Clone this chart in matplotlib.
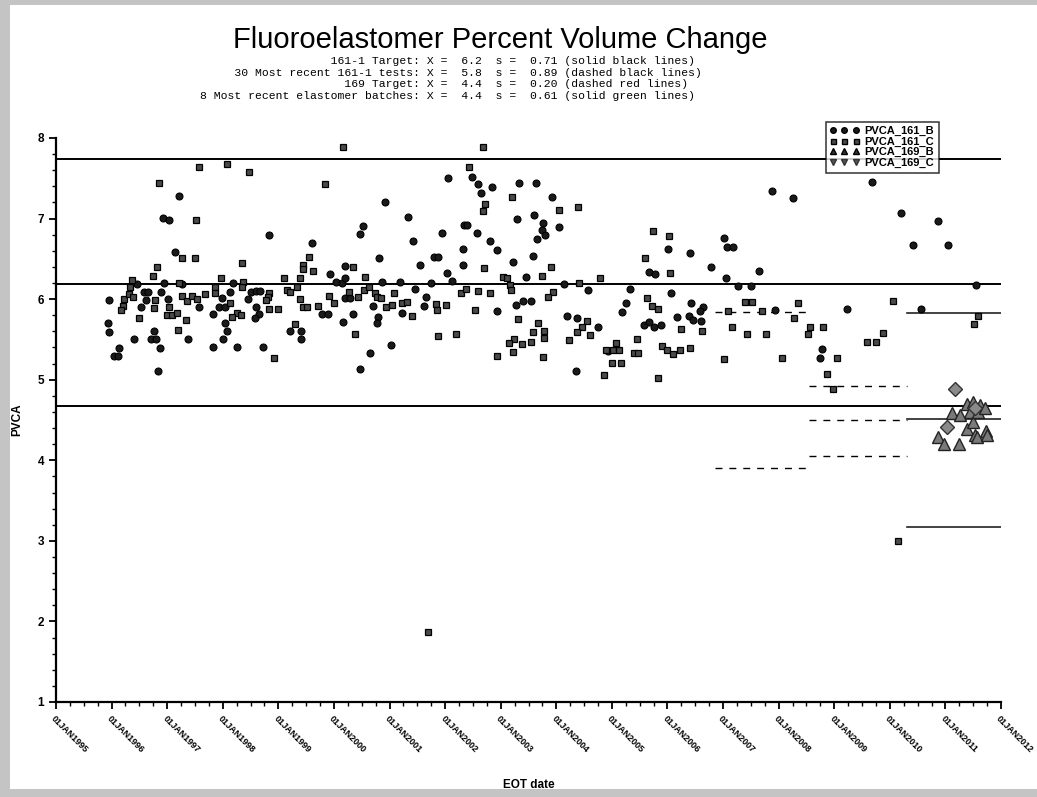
import matplotlib
matplotlib.use("Agg")
import matplotlib.pyplot as plt
from matplotlib.lines import Line2D
from matplotlib.patches import Rectangle
from matplotlib.ticker import MultipleLocator, FixedLocator

# ---------------- data ----------------
title = "Fluoroelastomer Percent Volume Change"
stat_labels = ["161-1 Target:", "30 Most recent 161-1 tests:", "169 Target:",
               "8 Most recent elastomer batches:"]
stat_means = ["6.2", "5.8", "4.4", "4.4"]
stat_sds = ["0.71", "0.89", "0.20", "0.61"]
stat_notes = ["(solid black lines)", "(dashed black lines)", "(dashed red lines)",
              "(solid green lines)"]

years = list(range(1995, 2013))
tick_labels = [f"01JAN{y}" for y in years]

# PVCA_161_B (circles)
b161_year = [1997.21, 1996.92, 1997.03, 1997.14, 1996.46, 1996.94, 1997.27, 1995.95, 1996.58, 1996.65,
             1996.62, 1996.89, 1996.53, 1997.01, 1997.57, 1995.94, 1995.95, 1996.76, 1996.40, 1996.71,
             1996.80, 1997.37, 1996.13, 1996.87, 1996.04, 1996.12, 1996.83,
             1998.83, 2000.52, 2000.47, 1999.60, 2000.20, 1999.93, 1998.18, 2000.04, 2000.14, 2000.20,
             1998.13, 1998.51, 1998.60, 1998.67, 1997.99, 1998.45, 2000.20, 2000.29, 1997.93, 1998.04,
             1998.60, 1999.78, 1999.89, 2000.34, 1998.65, 1998.58, 1998.04, 1998.08, 1998.00, 1997.82,
             2000.16, 1999.21, 1999.41, 1999.41, 1997.82, 1998.26, 1998.72, 2000.47,
             2002.05, 2002.48, 2002.59, 2002.64, 2002.84, 2003.33, 2000.92, 2001.33, 2003.29, 2002.34,
             2002.39, 2001.94, 2002.57, 2001.42, 2002.81, 2002.93, 2002.32, 2000.81, 2001.80, 2001.87,
             2003.22, 2001.55, 2002.32, 2002.03, 2000.86, 2001.19, 2001.74, 2002.12, 2003.45, 2001.46,
             2001.65, 2000.70, 2001.22, 2001.62, 2003.27, 2003.40, 2002.93, 2000.79, 2000.77, 2001.03,
             2000.65,
             2003.63, 2003.92, 2003.60, 2003.76, 2003.74, 2003.79, 2003.65, 2004.05, 2003.58, 2004.14,
             2004.57, 2003.54, 2006.01, 2006.40, 2005.67, 2005.77, 2005.32, 2006.06, 2005.25, 2005.18,
             2006.42, 2004.19, 2004.37, 2004.75, 2005.58, 2005.76, 2005.88, 2005.67, 2006.17, 2006.38,
             2006.46, 2004.93, 2004.35,
             2007.88, 2008.26, 2007.01, 2007.07, 2007.18, 2006.78, 2007.64, 2007.05, 2007.27, 2007.50,
             2006.64, 2006.58, 2006.60, 2007.93, 2009.23, 2008.78, 2008.74,
             2009.68, 2010.20, 2010.86, 2010.41, 2011.04, 2011.55, 2010.56]
b161_val = [7.28, 7.01, 6.98, 6.59, 6.19, 6.20, 6.19, 5.99, 6.09, 6.09,
            5.99, 6.09, 5.90, 6.00, 5.90, 5.70, 5.59, 5.60, 5.51, 5.51,
            5.51, 5.51, 5.39, 5.39, 5.29, 5.29, 5.11,
            6.80, 6.91, 6.81, 6.70, 6.41, 6.31, 6.20, 6.21, 6.20, 6.26,
            6.09, 6.09, 6.10, 6.10, 6.01, 6.00, 6.01, 6.01, 5.90, 5.90,
            5.90, 5.82, 5.82, 5.82, 5.82, 5.77, 5.70, 5.60, 5.51, 5.82,
            5.72, 5.60, 5.60, 5.51, 5.41, 5.41, 5.41, 5.13,
            7.50, 7.52, 7.43, 7.32, 7.39, 7.44, 7.21, 7.02, 6.99, 6.92,
            6.92, 6.82, 6.82, 6.72, 6.72, 6.61, 6.62, 6.51, 6.52, 6.52,
            6.46, 6.42, 6.42, 6.32, 6.21, 6.21, 6.20, 6.23, 6.27, 6.13,
            6.03, 5.91, 5.83, 5.91, 5.93, 5.98, 5.85, 5.78, 5.70, 5.43,
            5.33,
            7.44, 7.27, 7.04, 6.95, 6.86, 6.80, 6.75, 6.90, 6.54, 6.19,
            6.11, 5.98, 6.62, 6.57, 6.34, 6.31, 6.13, 6.08, 5.95, 5.84,
            5.95, 5.79, 5.77, 5.65, 5.68, 5.65, 5.68, 5.72, 5.78, 5.79,
            5.74, 5.36, 5.11,
            7.34, 7.26, 6.76, 6.65, 6.65, 6.40, 6.35, 6.26, 6.16, 6.16,
            5.90, 5.85, 5.73, 5.87, 5.88, 5.38, 5.27,
            7.45, 7.07, 6.97, 6.67, 6.67, 6.18, 5.88]

# PVCA_161_C (squares)
c161_year = [1997.57, 1996.85, 1997.52, 1997.27, 1997.50, 1996.82, 1996.74, 1996.37, 1996.33, 1997.21,
             1996.22, 1996.21, 1996.17, 1996.31, 1996.38, 1996.78, 1996.76, 1997.03, 1997.00, 1997.09,
             1997.18, 1997.27, 1997.36, 1997.45, 1997.54, 1997.68, 1996.49, 1997.34, 1997.19,
             2000.16, 1998.08, 1998.47, 1999.84, 1999.55, 1999.44, 1999.44, 1999.62, 1998.35, 2000.34,
             1997.97, 1999.10, 1999.39, 2000.56, 1998.36, 1998.35, 1997.86, 1997.86, 2000.54, 2000.63,
             1998.83, 1998.81, 1998.78, 1999.15, 1999.21, 1999.33, 1998.13, 1999.39, 2000.27, 1999.91,
             2000.00, 2000.43, 1998.83, 1998.99, 1999.44, 1999.51, 1999.71, 1998.26, 1998.33, 1998.17,
             1999.30, 2000.38, 1998.92,
             2002.68, 2002.43, 2003.20, 2002.72, 2002.68, 2002.70, 2003.04, 2003.11, 2003.17, 2003.18,
             2001.08, 2000.74, 2000.77, 2000.85, 2002.28, 2002.37, 2002.59, 2002.81, 2000.94, 2001.04,
             2001.22, 2001.31, 2001.40, 2001.83, 2002.01, 2001.85, 2002.54, 2003.31, 2001.87, 2002.19,
             2003.24, 2003.15, 2003.38, 2003.54, 2003.22, 2002.93,
             2004.05, 2004.39, 2003.90, 2003.74, 2004.41, 2004.78, 2003.94, 2003.85, 2005.74, 2006.03,
             2005.59, 2006.04, 2005.63, 2005.72, 2005.83, 2003.67, 2003.58, 2003.78, 2003.78, 2004.55,
             2004.46, 2004.37, 2004.60, 2004.23, 2006.24, 2003.76, 2005.07, 2004.89, 2005.02, 2005.13,
             2005.45, 2005.40, 2005.47, 2005.90, 2005.99, 2006.10, 2006.22, 2006.40, 2005.00, 2005.16,
             2004.86, 2005.83,
             2007.39, 2007.52, 2008.35, 2007.09, 2007.70, 2008.27, 2006.62, 2007.16, 2007.43, 2007.77,
             2008.56, 2008.79, 2008.53, 2007.01, 2008.06, 2009.05, 2008.87, 2008.97,
             2010.05, 2011.58, 2011.51, 2009.87, 2009.59, 2009.75,
             2001.69, 2010.14]
c161_val = [7.64, 7.44, 6.98, 6.51, 6.51, 6.40, 6.29, 6.24, 6.15, 6.20,
            6.00, 5.91, 5.87, 6.06, 6.03, 5.99, 5.89, 5.90, 5.80, 5.80,
            5.83, 6.04, 5.98, 6.04, 6.00, 6.06, 5.77, 5.74, 5.62,
            7.89, 7.68, 7.58, 7.43, 6.52, 6.42, 6.37, 6.35, 6.45, 6.40,
            6.26, 6.26, 6.26, 6.27, 6.21, 6.15, 6.15, 6.08, 6.11, 6.15,
            6.08, 6.03, 5.99, 6.11, 6.09, 6.15, 5.95, 6.00, 6.09, 6.04,
            5.95, 6.03, 5.88, 5.88, 5.90, 5.90, 5.91, 5.83, 5.80, 5.78,
            5.69, 5.57, 5.27,
            7.89, 7.64, 7.27, 7.18, 7.09, 6.39, 6.27, 6.26, 6.18, 6.11,
            6.08, 6.08, 6.03, 6.01, 6.08, 6.13, 6.10, 6.08, 5.90, 5.93,
            5.95, 5.96, 5.79, 5.94, 5.93, 5.87, 5.87, 5.75, 5.54, 5.57,
            5.51, 5.46, 5.44, 5.47, 5.34, 5.29,
            7.11, 7.14, 6.40, 6.29, 6.20, 6.26, 6.09, 6.03, 6.85, 6.78,
            6.51, 6.32, 6.01, 5.91, 5.88, 5.70, 5.59, 5.60, 5.52, 5.73,
            5.65, 5.59, 5.55, 5.49, 5.63, 5.28, 5.46, 5.37, 5.37, 5.37,
            5.51, 5.33, 5.33, 5.42, 5.37, 5.32, 5.37, 5.39, 5.21, 5.21,
            5.06, 5.02,
            5.96, 5.96, 5.95, 5.85, 5.85, 5.77, 5.60, 5.65, 5.57, 5.57,
            5.65, 5.65, 5.57, 5.26, 5.27, 5.27, 5.07, 4.88,
            5.98, 5.79, 5.69, 5.58, 5.47, 5.47,
            1.87, 3.00]

# PVCA_169_B (triangles)
b169_year = [2011.12, 2010.86, 2010.97, 2011.24, 2011.38, 2011.53, 2011.56, 2011.73, 2011.74, 2011.49,
             2011.38, 2011.49, 2011.62, 2011.44, 2011.58, 2011.26, 2011.71]
b169_val = [4.59, 4.29, 4.20, 4.20, 4.39, 4.31, 4.29, 4.36, 4.31, 4.48,
            4.70, 4.72, 4.69, 4.60, 4.60, 4.56, 4.65]

# PVCA_169_C
c169_year = [2011.17, 2011.03, 2011.53]
c169_val = [4.88, 4.41, 4.65]

# reference lines
target_161 = [7.74, 6.19, 4.67]                 # solid black, full width
recent_span = (2006.85, 2008.55)
recent_lines = [5.84, 3.91]                     # dashed black
t169_span = (2008.55, 2010.30)
t169_lines = [4.92, 4.50, 4.05]                 # dashed
batch_span = (2010.30, 2012.0)
batch_lines = [5.83, 4.51, 3.17]                # solid

# ---------------- figure ----------------
W, H = 1037, 797
fig = plt.figure(figsize=(W / 100, H / 100), dpi=100)
fig.patch.set_facecolor("white")

# scan border
for (x0, y0, w, h) in [(0, 0, 10, H), (0, 0, W, 5), (0, H - 8, W, 8)]:
    fig.add_artist(Rectangle((x0 / W, 1 - (y0 + h) / H), w / W, h / H,
                             transform=fig.transFigure, facecolor="#c4c4c4",
                             edgecolor="none", zorder=0))

ax = fig.add_axes([56 / W, 1 - 702 / H, (1001 - 56) / W, (702 - 138) / H])
ax.set_xlim(1995, 2012)
ax.set_ylim(1, 8)
for s in ("top", "right"):
    ax.spines[s].set_visible(False)
for s in ("left", "bottom"):
    ax.spines[s].set_linewidth(1.6)

for v in target_161:
    ax.axhline(v, color="black", lw=1.4, zorder=2)
for v in recent_lines:
    ax.plot(recent_span, [v, v], color="black", lw=1.0, ls=(0, (5, 5)), zorder=2)
for v in t169_lines:
    ax.plot(t169_span, [v, v], color="black", lw=1.0, ls=(0, (5, 5)), zorder=2)
for v in batch_lines:
    ax.plot(batch_span, [v, v], color="#222222", lw=1.2, zorder=2)

ax.plot(b161_year, b161_val, ls="none", marker="o", ms=5, mfc="#1a1a1a", mec="black",
        mew=0.8, zorder=4)
ax.plot(c161_year, c161_val, ls="none", marker="s", ms=4.3, mfc="#4a4a4a", mec="black",
        mew=0.9, zorder=4)
ax.plot(b169_year, b169_val, ls="none", marker="^", ms=8.5, mfc="#7a7a7a", mec="#222222",
        mew=1.0, zorder=5)
ax.plot(c169_year, c169_val, ls="none", marker="D", ms=7, mfc="#8a8a8a", mec="#333333",
        mew=1.0, zorder=5)

ax.xaxis.set_major_locator(FixedLocator(years))
ax.set_xticklabels(tick_labels)
ax.xaxis.set_minor_locator(MultipleLocator(0.25))
ax.yaxis.set_major_locator(MultipleLocator(1))
ax.yaxis.set_minor_locator(MultipleLocator(0.2))
ax.tick_params(axis="both", which="major", length=5, width=1.3, direction="out")
ax.tick_params(axis="both", which="minor", length=3, width=1.0, direction="out")
for lab in ax.get_xticklabels():
    lab.set_rotation(-45)
    lab.set_rotation_mode("anchor")
    lab.set_ha("left")
    lab.set_va("top")
    lab.set_fontsize(6.5)
    lab.set_fontweight("bold")
    lab.set_fontfamily("Liberation Sans")
for lab in ax.get_yticklabels():
    lab.set_fontsize(8.5)
    lab.set_fontweight("bold")
    lab.set_fontfamily("Liberation Sans")

ax.set_xlabel("EOT date", fontsize=8.5, fontweight="bold", family="Liberation Sans")
ax.xaxis.set_label_coords(0.5, -(779 - 702) / (702 - 138))
ax.set_ylabel("PVCA", fontsize=8.5, fontweight="bold", family="Liberation Sans", labelpad=10)

# title and statistics lines
fig.text(500 / W, 1 - 40 / H, title, ha="center", va="center", fontsize=21,
         family="Liberation Sans")
for i, (lab, m, s, n) in enumerate(zip(stat_labels, stat_means, stat_sds, stat_notes)):
    line = f"{lab.rjust(32)} X =  {m}  s =  {s} {n}"
    fig.text(200 / W, 1 - (61 + i * 11.7) / H, line, ha="left", va="center",
             fontsize=8.2, family="Liberation Mono")

# legend
handles = [
    Line2D([], [], ls="none", marker="o", ms=4, mfc="#1a1a1a", mec="black"),
    Line2D([], [], ls="none", marker="s", ms=3.6, mfc="#4a4a4a", mec="black"),
    Line2D([], [], ls="none", marker="^", ms=4, mfc="#333333", mec="black"),
    Line2D([], [], ls="none", marker="v", ms=4, mfc="#555555", mec="#333333"),
]
leg = fig.legend(handles, ["PVCA_161_B", "PVCA_161_C", "PVCA_169_B", "PVCA_169_C"],
                 loc="upper left", bbox_to_anchor=(820 / W, 1 - 116 / H),
                 numpoints=3, handlelength=2.6, handletextpad=0.5, borderpad=0.4,
                 labelspacing=0.05, frameon=True, fancybox=False,
                 prop={"family": "Liberation Sans", "weight": "bold", "size": 8})
leg.get_frame().set_edgecolor("black")
leg.get_frame().set_linewidth(1.1)

fig.savefig("out.png", dpi=100)
